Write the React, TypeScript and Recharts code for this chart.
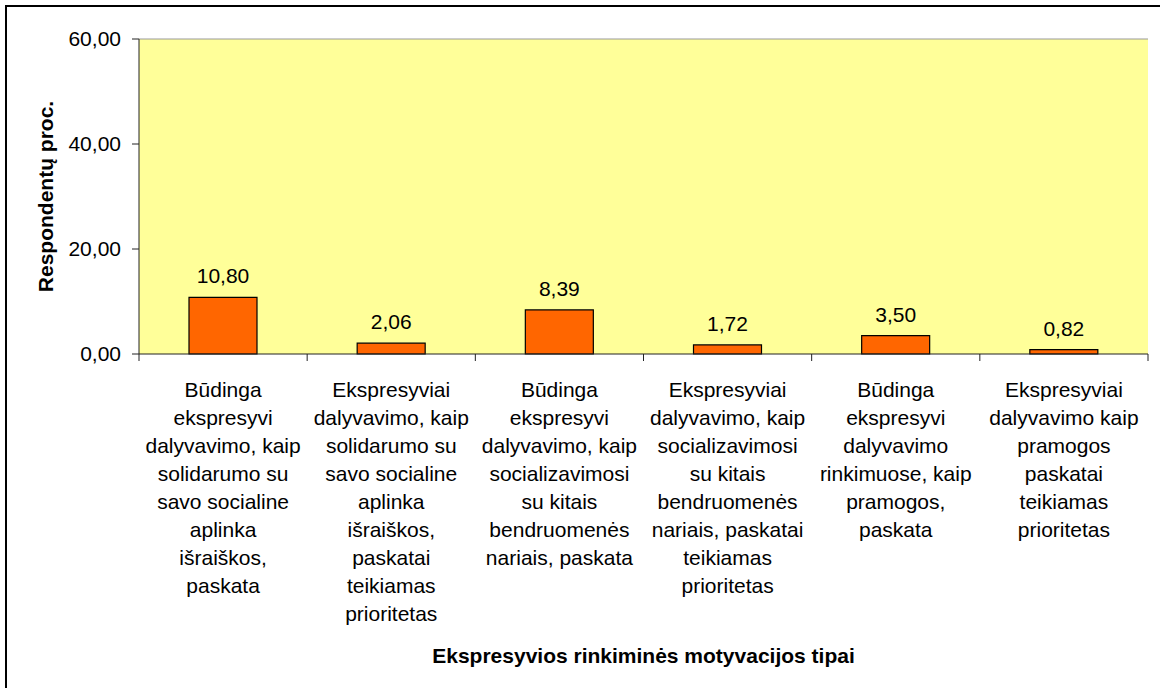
import {
  BarChart,
  Bar,
  XAxis,
  YAxis,
  CartesianGrid,
  ReferenceLine,
  LabelList,
} from 'recharts';

// ---------------------------------------------------------------------------
// Data
// ---------------------------------------------------------------------------

const categories: string[] = [
  'Būdinga\nekspresyvi\ndalyvavimo, kaip\nsolidarumo su\nsavo socialine\naplinka\nišraiškos,\npaskata',
  'Ekspresyviai\ndalyvavimo, kaip\nsolidarumo su\nsavo socialine\naplinka\nišraiškos,\npaskatai\nteikiamas\nprioritetas',
  'Būdinga\nekspresyvi\ndalyvavimo, kaip\nsocializavimosi\nsu kitais\nbendruomenės\nnariais, paskata',
  'Ekspresyviai\ndalyvavimo, kaip\nsocializavimosi\nsu kitais\nbendruomenės\nnariais, paskatai\nteikiamas\nprioritetas',
  'Būdinga\nekspresyvi\ndalyvavimo\nrinkimuose, kaip\npramogos,\npaskata',
  'Ekspresyviai\ndalyvavimo kaip\npramogos\npaskatai\nteikiamas\nprioritetas',
];

const values: number[] = [10.8, 2.06, 8.39, 1.72, 3.5, 0.82];

const yTicks: number[] = [0, 20, 40, 60];

const xTitle = 'Ekspresyvios rinkiminės motyvacijos tipai';
const yTitle = 'Respondentų proc.';

// ---------------------------------------------------------------------------
// Helpers
// ---------------------------------------------------------------------------

const FONT = '"Liberation Sans", Arial, sans-serif';

const fmt = (v: number) => v.toFixed(2).replace('.', ',');

const data = categories.map((name, i) => ({ name, value: values[i] }));

// multi-line category label + tick marks on the category boundaries
function CategoryTick(props: any) {
  const { x, y, payload, index, visibleTicksCount, width } = props;
  const half =
    payload && typeof payload.offset === 'number' && payload.offset > 0
      ? payload.offset
      : width / visibleTicksCount / 2;
  const lines = String(payload.value).split('\n');
  const last = index === visibleTicksCount - 1;
  return (
    <g>
      <line x1={x - half} y1={y} x2={x - half} y2={y + 7} stroke="#222" />
      {last && (
        <line x1={x + half} y1={y} x2={x + half} y2={y + 7} stroke="#222" />
      )}
      <text
        x={x}
        y={y}
        textAnchor="middle"
        fontFamily={FONT}
        fontSize={21}
        fill="#000"
      >
        {lines.map((line, i) => (
          <tspan key={i} x={x} dy={i === 0 ? 43 : 28}>
            {line}
          </tspan>
        ))}
      </text>
    </g>
  );
}

// ---------------------------------------------------------------------------
// Component
// ---------------------------------------------------------------------------

export default function App() {
  return (
    <div
      style={{
        position: 'absolute',
        left: 0,
        top: 0,
        width: 1160,
        height: 688,
        background: '#fff',
        overflow: 'hidden',
      }}
    >
      <div
        style={{
          position: 'absolute',
          left: 5,
          top: 5,
          width: 1200,
          height: 720,
          borderTop: '2px solid #000',
          borderLeft: '2px solid #000',
        }}
      />
      <div style={{ position: 'absolute', left: 0, top: 0 }}>
        <BarChart
          width={1160}
          height={688}
          data={data}
          margin={{ top: 39, right: 12, bottom: 0, left: 0 }}
        >
          <CartesianGrid
            fill="#FFFF99"
            horizontal={false}
            vertical={false}
          />
          <XAxis
            dataKey="name"
            height={334}
            interval={0}
            axisLine={{ stroke: '#222' }}
            tickLine={false}
            tickSize={0}
            tickMargin={0}
            tick={<CategoryTick />}
            label={({ viewBox }: any) => (
              <text
                x={viewBox.x + viewBox.width / 2}
                y={663}
                textAnchor="middle"
                fontFamily={FONT}
                fontSize={21}
                fontWeight="bold"
                fill="#000"
              >
                {xTitle}
              </text>
            )}
          />
          <YAxis
            type="number"
            domain={[0, 60]}
            ticks={yTicks}
            width={139}
            tickFormatter={fmt}
            tickSize={7}
            tickMargin={11}
            tick={{ fontSize: 21, fill: '#000', fontFamily: FONT }}
            tickLine={{ stroke: '#222' }}
            axisLine={{ stroke: '#222' }}
            label={({ viewBox }: any) => (
              <text
                x={45}
                y={viewBox.y + viewBox.height / 2}
                transform={`rotate(-90, 45, ${viewBox.y + viewBox.height / 2})`}
                textAnchor="middle"
                dominantBaseline="central"
                fontFamily={FONT}
                fontSize={21}
                fontWeight="bold"
                fill="#000"
              >
                {yTitle}
              </text>
            )}
          />
          <YAxis
            yAxisId="frame"
            orientation="right"
            type="number"
            domain={[0, 60]}
            width={0}
            tick={false}
            tickLine={false}
            axisLine={{ stroke: '#999' }}
          />
          <ReferenceLine y={60} stroke="#999" />
          <Bar
            dataKey="value"
            fill="#FF6600"
            stroke="#000"
            strokeWidth={1.2}
            barSize={68}
            isAnimationActive={false}
          >
            <LabelList
              dataKey="value"
              position="top"
              offset={14}
              formatter={(v: any) => fmt(Number(v))}
              style={{ fontSize: 21, fill: '#000', fontFamily: FONT }}
            />
          </Bar>
        </BarChart>
      </div>
    </div>
  );
}
